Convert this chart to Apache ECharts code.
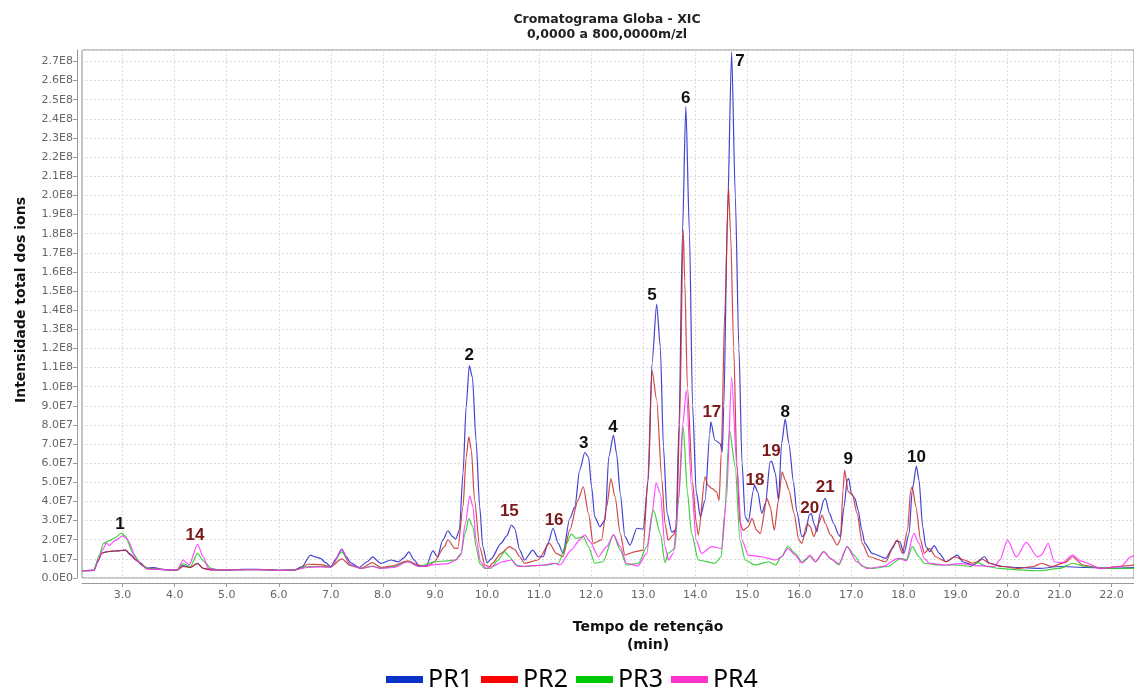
<!DOCTYPE html>
<html>
<head>
<meta charset="utf-8">
<script src="https://cdn.jsdelivr.net/npm/echarts@6/dist/echarts.min.js"></script>
<style>html,body{margin:0;padding:0;background:#fff}#c{width:1134px;height:691px}</style>
</head>
<body>
<div id="c"></div>
<script>
// Intensities are in units of 1E7 (multiplied by UNIT when plotted)
const UNIT = 1e7;
const seriesNames = ['PR1', 'PR2', 'PR3', 'PR4'];
const xTicks = [3,4,5,6,7,8,9,10,11,12,13,14,15,16,17,18,19,20,21,22];

const pr1 = [[2.22,0.38],[2.45,0.40],[2.52,0.85],[2.6,1.3],[2.69,1.37],[2.8,1.40],[2.9,1.42],[3.0,1.45],[3.06,1.46],[3.15,1.25],[3.25,0.95],[3.35,0.78],[3.46,0.5],[3.6,0.55],[3.75,0.45],[3.9,0.42],[4.05,0.42],[4.16,0.65],[4.3,0.55],[4.44,0.77],[4.55,0.5],[4.7,0.42],[5.0,0.42],[5.3,0.45],[5.6,0.45],[5.9,0.42],[6.0,0.40],[6.3,0.42],[6.45,0.6],[6.61,1.2],[6.7,1.1],[6.8,1.03],[6.9,0.8],[7.0,0.6],[7.1,1.0],[7.21,1.51],[7.3,1.1],[7.38,0.8],[7.54,0.55],[7.7,0.85],[7.8,1.1],[7.96,0.76],[8.15,0.94],[8.3,0.85],[8.4,1.05],[8.5,1.37],[8.6,0.94],[8.7,0.63],[8.83,0.6],[8.96,1.42],[9.05,1.11],[9.15,1.98],[9.25,2.47],[9.34,2.16],[9.4,2.03],[9.47,2.5],[9.54,5.47],[9.6,8.95],[9.66,11.1],[9.72,10.5],[9.79,7.2],[9.86,3.73],[9.92,1.63],[10.0,0.8],[10.08,1.0],[10.27,1.81],[10.38,2.2],[10.47,2.77],[10.53,2.6],[10.63,1.46],[10.72,0.94],[10.88,1.46],[10.98,1.11],[11.08,1.11],[11.17,1.81],[11.27,2.6],[11.37,1.81],[11.46,1.29],[11.59,3.11],[11.69,3.73],[11.78,5.64],[11.88,6.56],[11.95,6.33],[12.01,4.77],[12.07,3.2],[12.17,2.68],[12.27,3.03],[12.34,6.33],[12.43,7.47],[12.49,6.5],[12.56,4.42],[12.65,2.16],[12.75,1.72],[12.88,2.6],[13.0,2.55],[13.1,5.12],[13.17,11.2],[13.26,14.3],[13.33,12.08],[13.39,6.86],[13.46,3.38],[13.55,2.4],[13.63,2.5],[13.69,8],[13.755,18],[13.82,24.65],[13.89,18],[13.95,9],[14.02,4.5],[14.1,3.2],[14.19,4.07],[14.28,7.55],[14.30,8.16],[14.38,7.2],[14.48,7.03],[14.52,6.6],[14.55,9],[14.62,19],[14.70,27.5],[14.77,20],[14.84,12],[14.9,6],[14.96,3.2],[15.02,2.94],[15.12,4.6],[15.14,4.86],[15.2,4.5],[15.28,3.38],[15.35,3.9],[15.44,6.07],[15.47,6.1],[15.54,5.47],[15.6,4.07],[15.66,7.03],[15.73,8.3],[15.8,7.03],[15.89,5.0],[15.95,3.5],[16.05,2.16],[16.12,2.33],[16.19,3.29],[16.23,3.38],[16.28,2.85],[16.34,2.42],[16.4,3.38],[16.47,4.07],[16.5,4.16],[16.58,3.38],[16.66,2.85],[16.76,2.25],[16.79,2.16],[16.86,3.72],[16.92,5.12],[16.95,5.2],[17.0,4.42],[17.07,4.16],[17.13,3.55],[17.2,2.51],[17.26,1.81],[17.4,1.29],[17.66,1.03],[17.79,1.55],[17.86,1.93],[17.93,1.9],[18.01,1.29],[18.11,2.33],[18.17,4.6],[18.25,5.85],[18.3,5.12],[18.37,2.68],[18.43,1.64],[18.51,1.38],[18.59,1.69],[18.69,1.29],[18.82,0.85],[19.04,1.2],[19.14,0.85],[19.33,0.68],[19.56,1.11],[19.65,0.77],[19.9,0.6],[20.2,0.55],[20.6,0.5],[21.0,0.6],[21.5,0.55],[22.0,0.52],[22.45,0.55]];

const pr2 = [[2.22,0.38],[2.45,0.40],[2.52,0.85],[2.6,1.3],[2.69,1.37],[2.8,1.40],[2.9,1.42],[3.0,1.45],[3.06,1.44],[3.15,1.2],[3.25,0.95],[3.35,0.75],[3.46,0.5],[3.6,0.48],[3.75,0.45],[3.9,0.42],[4.05,0.42],[4.16,0.6],[4.3,0.55],[4.44,0.75],[4.55,0.5],[4.7,0.42],[5.0,0.42],[5.3,0.44],[5.6,0.44],[5.9,0.42],[6.0,0.40],[6.3,0.42],[6.45,0.55],[6.55,0.72],[6.8,0.7],[7.0,0.6],[7.21,1.0],[7.38,0.65],[7.58,0.5],[7.8,0.8],[7.96,0.55],[8.15,0.62],[8.48,0.9],[8.67,0.68],[8.86,0.62],[8.99,0.85],[9.18,1.63],[9.25,2.0],[9.38,1.55],[9.44,1.55],[9.54,3.73],[9.6,6.3],[9.65,7.38],[9.7,6.7],[9.76,4.1],[9.86,1.63],[9.96,0.68],[10.05,0.6],[10.1,0.77],[10.27,1.29],[10.43,1.64],[10.53,1.5],[10.63,1.11],[10.72,0.77],[10.98,0.94],[11.2,1.81],[11.33,1.29],[11.46,1.11],[11.59,2.5],[11.75,4.07],[11.85,4.77],[11.95,3.38],[12.04,1.81],[12.2,1.99],[12.3,3.73],[12.38,5.2],[12.46,4.25],[12.56,2.33],[12.65,1.2],[12.85,1.38],[13.0,1.46],[13.09,5.12],[13.17,10.85],[13.26,9.3],[13.36,5.12],[13.42,2.85],[13.48,1.98],[13.58,2.25],[13.64,2.68],[13.7,8],[13.77,18.2],[13.8,15.5],[13.85,10],[13.95,5],[14.02,2.9],[14.06,2.25],[14.19,5.29],[14.24,4.86],[14.32,4.68],[14.41,4.5],[14.46,4.07],[14.5,6.5],[14.57,14],[14.64,20.4],[14.68,18],[14.74,12],[14.8,6],[14.86,2.9],[14.92,2.5],[15.02,2.68],[15.09,3.12],[15.18,2.5],[15.25,2.33],[15.38,4.16],[15.44,3.73],[15.52,2.5],[15.6,4.07],[15.67,5.55],[15.73,5.12],[15.8,4.6],[15.9,3.38],[15.99,1.99],[16.05,1.81],[16.15,2.85],[16.21,2.68],[16.28,2.16],[16.37,2.85],[16.44,3.29],[16.5,2.85],[16.6,2.25],[16.73,1.72],[16.79,1.99],[16.84,4.6],[16.87,5.64],[16.94,4.51],[17.02,4.34],[17.11,3.38],[17.21,1.81],[17.34,1.11],[17.66,0.85],[17.82,1.72],[17.88,1.99],[17.98,1.29],[18.08,2.51],[18.14,4.6],[18.17,4.77],[18.24,3.72],[18.33,1.99],[18.4,1.29],[18.5,1.55],[18.62,1.11],[18.82,0.85],[18.98,1.11],[19.17,0.94],[19.33,0.77],[19.43,0.85],[19.52,0.98],[19.65,0.77],[19.9,0.6],[20.2,0.5],[20.5,0.6],[20.65,0.77],[20.85,0.6],[21.1,0.8],[21.25,1.11],[21.45,0.68],[21.8,0.5],[22.1,0.6],[22.45,0.68]];

const pr3 = [[2.22,0.38],[2.45,0.40],[2.55,1.2],[2.63,1.8],[2.75,1.95],[2.85,2.1],[2.98,2.35],[3.05,2.2],[3.2,1.3],[3.35,0.7],[3.5,0.5],[3.7,0.45],[3.9,0.42],[4.05,0.42],[4.16,0.75],[4.3,0.6],[4.44,1.29],[4.55,0.9],[4.7,0.5],[4.85,0.42],[5.2,0.42],[5.6,0.44],[6.0,0.40],[6.3,0.42],[6.55,0.6],[6.8,0.6],[7.0,0.58],[7.21,1.37],[7.38,0.68],[7.58,0.5],[7.8,0.62],[7.96,0.5],[8.2,0.6],[8.48,0.85],[8.7,0.6],[9.0,0.85],[9.25,0.9],[9.4,0.94],[9.5,1.29],[9.58,2.33],[9.65,3.1],[9.73,2.68],[9.79,1.63],[9.86,0.76],[9.96,0.5],[10.08,0.51],[10.2,0.9],[10.34,1.38],[10.43,1.11],[10.56,0.68],[10.72,0.6],[11.1,0.68],[11.37,0.77],[11.53,1.81],[11.62,2.29],[11.72,2.07],[11.85,2.16],[11.95,1.64],[12.07,0.77],[12.23,0.85],[12.43,2.25],[12.56,1.46],[12.68,0.68],[12.91,0.77],[13.07,1.64],[13.2,3.55],[13.33,2.33],[13.42,0.8],[13.48,1.29],[13.61,1.55],[13.68,4.07],[13.77,7.9],[13.85,4.5],[13.93,2.33],[14.06,0.94],[14.38,0.77],[14.5,1.11],[14.56,3.2],[14.66,7.7],[14.77,5.8],[14.86,1.98],[14.96,0.94],[15.15,0.68],[15.41,0.85],[15.54,0.68],[15.66,1.11],[15.78,1.66],[15.92,1.29],[16.05,0.85],[16.21,1.11],[16.31,0.85],[16.47,1.38],[16.6,1.03],[16.76,0.68],[16.92,1.64],[17.05,1.2],[17.21,0.6],[17.4,0.5],[17.7,0.6],[17.95,1.03],[18.07,0.94],[18.17,1.64],[18.3,1.11],[18.4,0.77],[18.7,0.68],[19.0,0.68],[19.3,0.6],[19.43,0.8],[19.6,0.6],[19.85,0.5],[20.2,0.42],[20.6,0.38],[21.0,0.5],[21.25,0.77],[21.5,0.6],[22.0,0.5],[22.45,0.5]];

const pr4 = [[2.22,0.38],[2.45,0.40],[2.55,1.0],[2.62,1.5],[2.69,1.83],[2.74,1.7],[2.85,1.95],[3.0,2.2],[3.1,2.0],[3.27,0.94],[3.4,0.6],[3.5,0.45],[3.7,0.45],[3.9,0.42],[4.05,0.42],[4.16,0.94],[4.28,0.7],[4.44,1.76],[4.55,1.1],[4.65,0.5],[4.8,0.42],[5.2,0.42],[5.6,0.44],[6.0,0.40],[6.3,0.42],[6.55,0.55],[6.8,0.58],[7.0,0.55],[7.21,1.49],[7.38,0.7],[7.58,0.5],[7.8,0.6],[7.96,0.5],[8.2,0.55],[8.48,0.85],[8.7,0.6],[9.0,0.7],[9.25,0.75],[9.4,0.95],[9.5,1.2],[9.58,2.8],[9.67,4.3],[9.73,3.73],[9.79,2.0],[9.88,0.85],[9.98,0.5],[10.1,0.6],[10.3,0.85],[10.47,0.94],[10.6,0.6],[10.9,0.65],[11.1,0.68],[11.3,0.77],[11.4,0.68],[11.62,1.46],[11.78,1.99],[11.88,2.25],[11.98,1.9],[12.14,1.11],[12.3,1.64],[12.43,2.25],[12.56,1.64],[12.68,0.77],[12.9,0.63],[13.07,1.29],[13.17,3.38],[13.25,4.98],[13.33,4.42],[13.42,1.64],[13.49,0.94],[13.58,1.29],[13.68,4.07],[13.76,8],[13.83,9.8],[13.93,4.77],[14.02,1.98],[14.12,1.29],[14.32,1.64],[14.51,1.55],[14.6,4.07],[14.70,10.5],[14.8,5.8],[14.9,1.98],[15.02,1.2],[15.28,1.11],[15.54,0.94],[15.66,1.11],[15.78,1.55],[15.92,1.2],[16.05,0.77],[16.21,1.2],[16.31,0.85],[16.47,1.38],[16.6,1.0],[16.76,0.75],[16.92,1.64],[17.1,0.85],[17.3,0.5],[17.6,0.6],[17.9,1.03],[18.05,0.9],[18.2,2.33],[18.3,1.81],[18.4,1.03],[18.5,0.77],[18.8,0.68],[19.1,0.75],[19.4,0.65],[19.75,0.6],[19.85,0.93],[20.0,1.98],[20.17,1.1],[20.36,1.86],[20.58,1.1],[20.65,1.2],[20.78,1.81],[20.9,0.85],[21.05,0.8],[21.25,1.2],[21.4,0.9],[21.8,0.5],[22.18,0.6],[22.37,1.1],[22.45,1.2]];

// Peak annotations: [time, intensity (1E7), label]
const peakLabelsMain = [[2.95,2.82,'1'],[9.66,11.65,'2'],[11.86,7.03,'3'],[12.42,7.9,'4'],[13.17,14.78,'5'],[13.82,25.1,'6'],[14.86,27.0,'7'],[15.73,8.68,'8'],[16.94,6.21,'9'],[18.25,6.33,'10']];
const peakLabelsExtra = [[4.39,2.25,'14'],[10.43,3.51,'15'],[11.29,2.99,'16'],[14.32,8.65,'17'],[15.15,5.12,'18'],[15.46,6.6,'19'],[16.2,3.64,'20'],[16.5,4.73,'21']];

const legendColors = ['#0a32c8', '#ff0000', '#00c800', '#ff33cc'];
const lineColors = ['#2222cc', '#c82828', '#1ec81e', '#ff2cff'];

const chart = echarts.init(document.getElementById('c'), null, {renderer: 'canvas'});
const toXY = arr => arr.map(p => [p[0], p[1] * UNIT]);
const dataSets = [pr1, pr2, pr3, pr4];

function sci(v) {
  if (v === 0) return '0.0E0';
  const e = Math.floor(Math.log10(v) + 1e-9);
  const m = v / Math.pow(10, e);
  return m.toFixed(1) + 'E' + e;
}

const lineSeries = seriesNames.map((n, i) => ({
  name: n, type: 'line', data: toXY(dataSets[i]), showSymbol: false, symbol: 'none',
  smooth: 0.25, smoothMonotone: 'x',
  itemStyle: {color: legendColors[i]},
  lineStyle: {color: lineColors[i], width: 1.2, opacity: 0.85},
  emphasis: {disabled: true}, z: 2 + i
}));

const labelSeries = (arr, color) => ({
  type: 'scatter', data: arr.map(p => [p[0], p[1] * UNIT, p[2]]), symbolSize: 0, silent: true, z: 10,
  itemStyle: {opacity: 1},
  label: {show: true, position: 'inside', formatter: p => p.value[2], color: color, opacity: 1,
    fontFamily: 'Liberation Sans', fontWeight: 'bold', fontSize: 17}
});

chart.setOption({
  animation: false,
  backgroundColor: '#ffffff',
  grid: {left: 82, right: -1, top: 50, bottom: 113, show: true, borderColor: '#8a8a8a', borderWidth: 1, backgroundColor: '#fff'},
  legend: {
    data: seriesNames, left: 381, top: 662, icon: 'rect', itemWidth: 37, itemHeight: 7, itemGap: 8,
    textStyle: {fontFamily: 'Noto Sans', fontSize: 25, color: '#000'}
  },
  xAxis: {
    type: 'value', min: 2.22, max: 22.43, offset: 5,
    axisLine: {show: true, onZero: false, lineStyle: {color: '#999', width: 1}},
    axisTick: {show: true, length: 4, lineStyle: {color: '#999'}, customValues: xTicks},
    axisLabel: {customValues: xTicks, formatter: v => v.toFixed(1), fontFamily: 'DejaVu Sans', fontSize: 11, color: '#666', margin: 7},
    splitLine: {show: true, lineStyle: {color: '#dcdcdc', type: [2, 2], width: 1}}
  },
  yAxis: {
    type: 'value', min: 0, max: 2.76e8, interval: 1e7, offset: 5,
    axisLine: {show: true, lineStyle: {color: '#999', width: 1}},
    axisTick: {show: true, length: 4, lineStyle: {color: '#999'}},
    axisLabel: {formatter: sci, fontFamily: 'DejaVu Sans', fontSize: 11, color: '#666', margin: 4, showMaxLabel: false},
    splitLine: {show: true, lineStyle: {color: '#dcdcdc', type: [2, 2], width: 1}}
  },
  graphic: [
    {type: 'text', style: {text: 'Cromatograma Globa - XIC', x: 607, y: 20, align: 'center', verticalAlign: 'middle', font: 'bold 12.5px "DejaVu Sans"', fill: '#222'}},
    {type: 'text', style: {text: '0,0000 a 800,0000m/zl', x: 607, y: 35, align: 'center', verticalAlign: 'middle', font: 'bold 12.5px "DejaVu Sans"', fill: '#222'}},
    {type: 'text', style: {text: 'Tempo de retenção', x: 648, y: 627, align: 'center', verticalAlign: 'middle', font: 'bold 14px "DejaVu Sans"', fill: '#111'}},
    {type: 'text', style: {text: '(min)', x: 648, y: 645, align: 'center', verticalAlign: 'middle', font: 'bold 14px "DejaVu Sans"', fill: '#111'}},
    {type: 'text', x: 21, y: 300, rotation: Math.PI / 2, style: {text: 'Intensidade total dos ions', x: 0, y: 0, align: 'center', verticalAlign: 'middle', font: 'bold 14px "DejaVu Sans"', fill: '#111'}}
  ],
  series: lineSeries.concat([labelSeries(peakLabelsMain, '#111111'), labelSeries(peakLabelsExtra, '#7a1a1a')])
});
</script>
</body>
</html>
